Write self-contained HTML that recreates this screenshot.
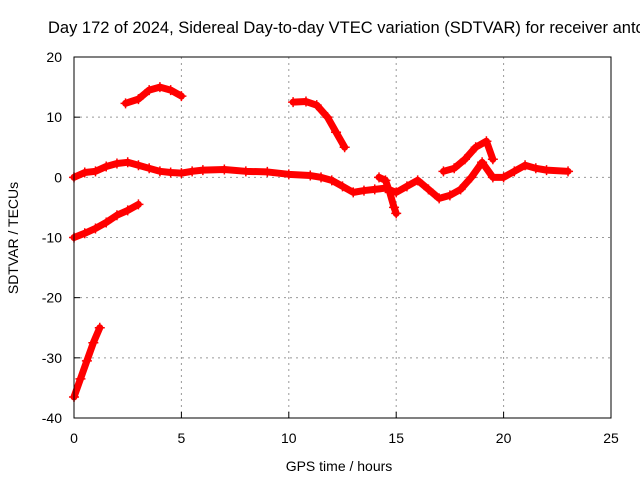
<!DOCTYPE html>
<html><head><meta charset="utf-8"><style>
body{margin:0;background:#fff;font-family:"Liberation Sans",sans-serif;}
svg text{font-family:"Liberation Sans",sans-serif;font-size:14px;fill:#000;}
</style></head><body>
<svg id="chart" width="640" height="480">
<text x="48" y="33" style="font-size:16.5px">Day 172 of 2024, Sidereal Day-to-day VTEC variation (SDTVAR) for receiver anto</text>
<text x="339" y="471" text-anchor="middle">GPS time / hours</text>
<text transform="translate(18,238) rotate(-90)" text-anchor="middle">SDTVAR / TECUs</text>
<g id="grid"></g><g id="series"></g>
<rect x="74" y="57" width="537" height="361" fill="none" stroke="#000"/>
</svg>
<script>
const xTicks=[0,5,10,15,20,25];
const yTicks=[-40,-30,-20,-10,0,10,20];
const mainT=[0,0.5,1,1.5,2,2.5,3,3.5,4,4.5,5,5.5,6,7,8,9,10,11,11.5,12,12.5,13,13.5,14,14.5,15,15.5,16,16.5,17,17.5,18,18.5,19,19.5,20,20.5,21,21.5,22,23];
const mainV=[0,0.8,1,1.8,2.3,2.5,2,1.5,1,0.8,0.7,1,1.2,1.3,1,0.9,0.5,0.3,0,-0.5,-1.5,-2.5,-2.2,-2,-1.8,-2.5,-1.5,-0.5,-2,-3.5,-3,-2,0,2.5,0,0,1,2,1.5,1.2,1];
const steepT=[0,0.3,0.6,0.9,1.2];
const steepV=[-36.5,-33.5,-30.5,-27.5,-25];
const lowT=[0,0.5,1,1.5,2,2.5,3];
const lowV=[-10,-9.3,-8.5,-7.5,-6.3,-5.5,-4.5];
const archT=[2.4,3,3.5,4,4.5,5];
const archV=[12.3,13,14.5,15,14.5,13.5];
const arch2T=[10.2,10.8,11.3,11.8,12.2,12.6];
const arch2V=[12.5,12.6,12,10,7.5,5];
const riseT=[17.2,17.7,18.2,18.7,19.2,19.5];
const riseV=[1,1.5,3,5,6,3];
const spikeT=[14.2,14.5,14.7,14.9,15];
const spikeV=[0,-0.5,-2.5,-5,-6];
const X=t=>74+t*537/25;
const Y=v=>57+(20-v)*361/60;
const NS="http://www.w3.org/2000/svg";
const grid=document.getElementById('grid');
function mk(tag,attrs,parent){const e=document.createElementNS(NS,tag);for(const k in attrs)e.setAttribute(k,attrs[k]);parent.appendChild(e);return e;}
xTicks.forEach(t=>{
 if(t>0&&t<25){const l=mk('line',{x1:X(t),x2:X(t),y1:57,y2:418,stroke:'#999','stroke-dasharray':'2,4'},grid);
 
 }
 const tk=mk('line',{x1:X(t),x2:X(t),y1:418,y2:412,stroke:'#000'},grid);
 
 
 const tx=mk('text',{x:X(t),y:443,'text-anchor':'middle'},grid);tx.textContent=t;
 
 
});
yTicks.forEach(v=>{
 if(v>-40&&v<20){const l=mk('line',{x1:74,x2:611,y1:Y(v),y2:Y(v),stroke:'#999','stroke-dasharray':'2,4'},grid);
 
 }
 const tk=mk('line',{x1:74,x2:80,y1:Y(v),y2:Y(v),stroke:'#000'},grid);
 
 
 const tx=mk('text',{x:62,y:Y(v)+5,'text-anchor':'end'},grid);tx.textContent=v;
 
 
});
const ser=document.getElementById('series');
function draw(ts,vs,name){
 const g=mk('g',{},ser);
 
 
 const pts=ts.map((t,i)=>X(t)+','+Y(vs[i])).join(' ');
 mk('polyline',{points:pts,fill:'none',stroke:'#f00','stroke-width':7,'stroke-linejoin':'round','stroke-linecap':'round'},g);
 ts.forEach((t,i)=>{const x=X(t),y=Y(vs[i]);
  const p=mk('path',{d:`M${x-5},${y}H${x+5}M${x},${y-5}V${y+5}`,stroke:'#f00','stroke-width':1.5},g);
  
  });
}
draw(mainT,mainV,'series-main');
draw(steepT,steepV,'series-steep');
draw(lowT,lowV,'series-low');
draw(archT,archV,'series-arch-early');
draw(arch2T,arch2V,'series-arch-late');
draw(riseT,riseV,'series-rise');
draw(spikeT,spikeV,'series-spike');
</script>
</body></html>
